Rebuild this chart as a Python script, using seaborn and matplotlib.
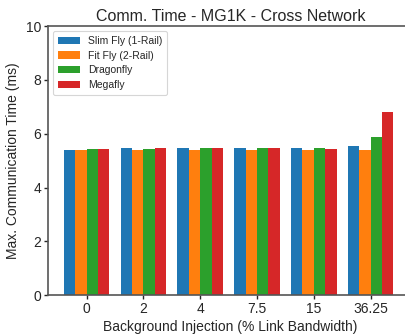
import matplotlib
matplotlib.use("Agg")
import matplotlib.pyplot as plt
import seaborn as sns
import pandas as pd

# Background injection levels (% of link bandwidth)
injection = ["0", "2", "4", "7.5", "15", "36.25"]

# Max. communication time (ms) per topology
slim_fly = [5.40, 5.46, 5.46, 5.46, 5.46, 5.54]
fit_fly = [5.39, 5.39, 5.39, 5.39, 5.39, 5.39]
dragonfly = [5.43, 5.43, 5.46, 5.46, 5.46, 5.87]
megafly = [5.43, 5.46, 5.46, 5.46, 5.43, 6.80]

topologies = ["Slim Fly (1-Rail)", "Fit Fly (2-Rail)", "Dragonfly", "Megafly"]
series = [slim_fly, fit_fly, dragonfly, megafly]

rows = []
for name, vals in zip(topologies, series):
    for inj, v in zip(injection, vals):
        rows.append({"Injection": inj, "Topology": name, "Time": v})
df = pd.DataFrame(rows)

sns.set_theme(style="ticks")
plt.rcParams["font.family"] = ["Liberation Sans", "DejaVu Sans"]

fig = plt.figure(figsize=(4.06, 3.35), dpi=100)
ax = fig.add_axes([0.118, 0.119, 0.90, 0.803])

palette = ["#1f77b4", "#ff7f0e", "#2ca02c", "#d62728"]
sns.barplot(data=df, x="Injection", y="Time", hue="Topology", order=injection,
            hue_order=topologies, palette=palette, width=0.8, saturation=1,
            linewidth=0, edgecolor="none", ax=ax)

ax.set_ylim(0, 10)
ax.set_yticks([0, 2, 4, 6, 8, 10])
ax.set_xlim(-0.68, 5.75)
ax.set_title("Comm. Time - MG1K - Cross Network", fontsize=11.5, pad=4)
ax.set_xlabel("Background Injection (% Link Bandwidth)", fontsize=10, labelpad=3)
ax.set_ylabel("Max. Communication Time (ms)", fontsize=10, labelpad=4)
ax.tick_params(axis="both", labelsize=10, length=3, width=1, pad=2)

for side in ["top", "right", "left", "bottom"]:
    ax.spines[side].set_visible(True)
    ax.spines[side].set_color("#555555")
    ax.spines[side].set_linewidth(1.2)

leg = ax.legend(loc="upper left", fontsize=7.5, frameon=True, handlelength=2.1,
                handleheight=0.7, borderpad=0.45, labelspacing=0.45,
                handletextpad=0.8, bbox_to_anchor=(0.0, 1.0))
leg.get_frame().set_edgecolor("#cccccc")
leg.get_frame().set_linewidth(0.8)
leg.set_title(None)

fig.savefig("out.png", dpi=100)
